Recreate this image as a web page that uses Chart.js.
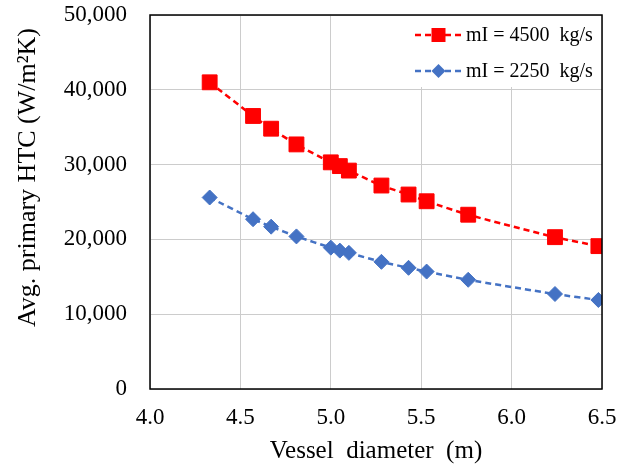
<!DOCTYPE html>
<html>
<head>
<meta charset="utf-8">
<script src="https://cdn.jsdelivr.net/npm/chart.js@4"></script>
<style>
  html, body { margin: 0; padding: 0; background: #ffffff; }
  #wrap { width: 626px; height: 466px; }
</style>
</head>
<body>
<div id="wrap"><canvas id="myChart" width="626" height="466"></canvas></div>
<script>
// vessel diameter (m)
var diameters = [4.33, 4.57, 4.67, 4.81, 5.00, 5.05, 5.10, 5.28, 5.43, 5.53, 5.76, 6.24, 6.48];
// average primary HTC (W/m2K)
var htc4500 = [41000, 36500, 34800, 32700, 30300, 29800, 29200, 27200, 26000, 25100, 23300, 20300, 19100];
var htc2250 = [25600, 22700, 21700, 20400, 18900, 18500, 18200, 17000, 16200, 15700, 14600, 12700, 11900];
var seriesNames = ['mI = 4500  kg/s', 'mI = 2250  kg/s'];
var xTicks = [4.0, 4.5, 5.0, 5.5, 6.0, 6.5];
var yTicks = [0, 10000, 20000, 30000, 40000, 50000];

var serif = '"Liberation Serif", "Times New Roman", serif';
var red = '#ff0000';
var blue = '#4472c4';

function toPoints(xs, ys) {
    return xs.map(function (x, i) { return { x: x, y: ys[i] }; });
}

// plot frame + legend box inside the plot, like the original
var framePlugin = {
    id: 'frame',
    afterDatasetsDraw: function (chart) {
        var ctx = chart.ctx;
        var a = chart.chartArea;
        ctx.save();
        ctx.strokeStyle = '#000000';
        ctx.lineWidth = 1.5;
        ctx.strokeRect(a.left, a.top, a.right - a.left, a.bottom - a.top);

        // legend
        var boxLeft = a.right - 187;
        ctx.fillStyle = '#ffffff';
        ctx.fillRect(boxLeft, a.top + 1, a.right - boxLeft - 1, 71);
        var rows = [
            { y: a.top + 20, color: red, shape: 'square', text: seriesNames[0] },
            { y: a.top + 56, color: blue, shape: 'diamond', text: seriesNames[1] }
        ];
        rows.forEach(function (r) {
            var x0 = boxLeft, x1 = boxLeft + 47, xm = (x0 + x1) / 2;
            ctx.strokeStyle = r.color;
            ctx.lineWidth = 2.5;
            ctx.setLineDash([6, 4]);
            ctx.beginPath();
            ctx.moveTo(x0, r.y);
            ctx.lineTo(x1, r.y);
            ctx.stroke();
            ctx.setLineDash([]);
            ctx.fillStyle = r.color;
            ctx.beginPath();
            if (r.shape === 'square') {
                ctx.rect(xm - 7, r.y - 7, 14, 14);
            } else {
                ctx.moveTo(xm - 7, r.y);
                ctx.lineTo(xm, r.y - 7);
                ctx.lineTo(xm + 7, r.y);
                ctx.lineTo(xm, r.y + 7);
                ctx.closePath();
            }
            ctx.fill();
            ctx.fillStyle = '#000000';
            ctx.font = '20px ' + serif;
            ctx.textAlign = 'left';
            ctx.textBaseline = 'middle';
            ctx.fillText(r.text, x1 + 4, r.y + 1);
        });
        ctx.restore();
    }
};

var ctx = document.getElementById('myChart').getContext('2d');
var myChart = new Chart(ctx, {
    type: 'line',
    data: {
        datasets: [{
            label: seriesNames[0],
            data: toPoints(diameters, htc4500),
            borderColor: red,
            backgroundColor: red,
            borderWidth: 2.5,
            borderDash: [6, 4],
            pointStyle: 'rect',
            pointRadius: 10.5,
            pointBorderWidth: 1,
            pointHoverRadius: 10.5,
            tension: 0.2
        }, {
            label: seriesNames[1],
            data: toPoints(diameters, htc2250),
            borderColor: blue,
            backgroundColor: blue,
            borderWidth: 2.5,
            borderDash: [6, 4],
            pointStyle: 'rectRot',
            pointRadius: 7.5,
            pointBorderWidth: 1,
            pointHoverRadius: 7.5,
            tension: 0.2
        }]
    },
    options: {
        responsive: false,
        animation: false,
        layout: { padding: { left: 0, top: 15, right: 24, bottom: 0 } },
        plugins: {
            legend: { display: false },
            tooltip: { enabled: false }
        },
        scales: {
            x: {
                type: 'linear',
                min: xTicks[0],
                max: xTicks[xTicks.length - 1],
                afterBuildTicks: function (s) { s.ticks = xTicks.map(function (v) { return { value: v }; }); },
                afterFit: function (s) {
                    s.height = 77;
                    s.paddingLeft = 0;
                    s.paddingRight = 0;
                },
                grid: { color: '#cccccc', lineWidth: 1, drawTicks: false },
                border: { display: false },
                ticks: {
                    padding: 15,
                    color: '#000000',
                    font: { family: serif, size: 23 },
                    maxRotation: 0,
                    callback: function (v) { return Number(v).toFixed(1); }
                },
                title: {
                    display: true,
                    text: 'Vessel  diameter  (m)',
                    color: '#000000',
                    font: { family: serif, size: 25 },
                    padding: { top: 0, bottom: 0 }
                }
            },
            y: {
                min: yTicks[0],
                max: yTicks[yTicks.length - 1],
                afterBuildTicks: function (s) { s.ticks = yTicks.map(function (v) { return { value: v }; }); },
                afterFit: function (s) {
                    s.width = 150;
                    s.paddingTop = 0;
                    s.paddingBottom = 0;
                },
                grid: { color: '#cccccc', lineWidth: 1, drawTicks: false },
                border: { display: false },
                ticks: {
                    padding: 23,
                    color: '#000000',
                    font: { family: serif, size: 23 },
                    callback: function (v) { return Number(v).toLocaleString('en-US'); }
                },
                title: {
                    display: true,
                    text: 'Avg. primary HTC (W/m\u00b2K)  ',
                    align: 'end',
                    color: '#000000',
                    font: { family: serif, size: 26 },
                    padding: { top: 13, bottom: 0 }
                }
            }
        }
    },
    plugins: [framePlugin]
});
</script>
</body>
</html>
